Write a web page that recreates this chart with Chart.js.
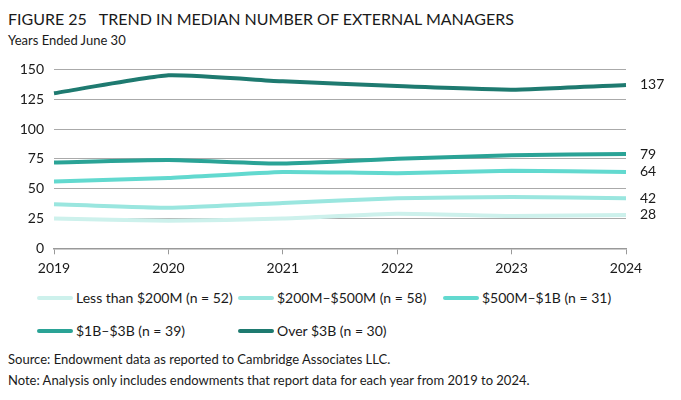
<!DOCTYPE html>
<html>
<head>
<meta charset="utf-8">
<script src="https://cdn.jsdelivr.net/npm/chart.js@4"></script>
<style>
  html, body { margin:0; padding:0; width:681px; height:400px; background:#fff; overflow:hidden; }
  body { position:relative; font-family: Lato, "Open Sans", sans-serif; color:#1a1a1a; }
  .title { position:absolute; left:8px; top:9px; font-size:16px; white-space:pre; letter-spacing:0; }
  .sub { position:absolute; left:8px; top:32px; font-size:13px; }
  #wrap { position:absolute; left:0; top:51px; width:681px; height:234px; }
  #legend { position:absolute; left:0; top:0; width:681px; height:0; }
  .li { position:absolute; font-size:14px; white-space:nowrap; line-height:16px; }
  .sw { position:absolute; width:36px; height:4px; border-radius:2px; }
  .src { position:absolute; left:8px; font-size:13px; white-space:nowrap; }
</style>
</head>
<body>
<div class="title">FIGURE 25   TREND IN MEDIAN NUMBER OF EXTERNAL MANAGERS</div>
<div class="sub">Years Ended June 30</div>
<div id="wrap"><canvas id="c"></canvas></div>
<div id="legend"></div>
<div class="src" style="top:351px">Source: Endowment data as reported to Cambridge Associates LLC.</div>
<div class="src" style="top:372px">Note: Analysis only includes endowments that report data for each year from 2019 to 2024.</div>
<script>
const years = ["2019", "2020", "2021", "2022", "2023", "2024"];
const seriesNames = ["Less than $200M (n = 52)", "$200M\u2013$500M (n = 58)", "$500M\u2013$1B (n = 31)", "$1B\u2013$3B (n = 39)", "Over $3B (n = 30)"];
const lessThan200M = [25, 23, 25, 29, 27, 28];
const from200to500M = [37, 34, 38, 42, 43, 42];
const from500Mto1B = [56, 59, 64, 63, 65, 64];
const from1Bto3B = [72, 74, 71, 75, 78, 79];
const over3B = [130, 145, 140, 136, 133, 137];
const yTicks = [0, 25, 50, 75, 100, 125, 150];
const colors = ["#cdf1ec", "#9ae6df", "#62d9cf", "#2aa396", "#1e7a70"];

const seriesValues = [lessThan200M, from200to500M, from500Mto1B, from1Bto3B, over3B];

const endLabels = {
  id: 'endLabels',
  afterDatasetsDraw(chart) {
    const ctx = chart.ctx;
    const xs = chart.scales.x, ys = chart.scales.y;
    ctx.save();
    ctx.font = '14px Lato, sans-serif';
    ctx.fillStyle = '#1a1a1a';
    ctx.textBaseline = 'middle';
    ctx.textAlign = 'left';
    chart.data.datasets.forEach(ds => {
      const v = ds.data[ds.data.length - 1];
      ctx.fillText(String(v), xs.getPixelForValue(ds.data.length - 1) + 14, ys.getPixelForValue(v));
    });
    ctx.restore();
  }
};

const chart = new Chart(document.getElementById('c'), {
  type: 'line',
  data: {
    labels: years,
    datasets: seriesNames.map((n, i) => ({
      label: n,
      data: seriesValues[i],
      borderColor: colors[i],
      backgroundColor: colors[i],
      borderWidth: 4,
      pointRadius: 0,
      tension: 0.15,
      fill: false
    }))
  },
  options: {
    responsive: true,
    maintainAspectRatio: false,
    animation: false,
    layout: { padding: { left: 0, right: 55, top: 10, bottom: 0 } },
    plugins: { legend: { display: false }, tooltip: { enabled: false } },
    scales: {
      x: {
        grid: { drawOnChartArea: false, drawTicks: true, tickLength: 6, color: '#999' },
        border: { display: true, color: '#999', width: 1.5 },
        ticks: { color: '#1a1a1a', font: { family: 'Lato', size: 14 }, padding: 6, maxRotation: 0 },
        afterFit(s) { s.height = 36.7; }
      },
      y: {
        min: 0, max: 150,
        afterBuildTicks(s) { s.ticks = yTicks.map(v => ({ value: v })); },
        grid: { color: '#aaa', drawTicks: false, lineWidth: 1 },
        border: { display: false },
        ticks: { color: '#1a1a1a', font: { family: 'Lato', size: 14 }, padding: 10 },
        afterFit(s) { s.width = 54; }
      }
    }
  },
  plugins: [endLabels]
});

// HTML legend generated from the datasets
const lg = document.getElementById('legend');
const pos = [[37, 298], [238, 298], [443, 298], [37, 331], [238, 331]];
chart.data.datasets.forEach((ds, i) => {
  const [x, y] = pos[i];
  const sw = document.createElement('div');
  sw.className = 'sw';
  sw.style.left = x + 'px'; sw.style.top = (y - 2) + 'px';
  sw.style.background = ds.borderColor;
  lg.appendChild(sw);
  const t = document.createElement('div');
  t.className = 'li';
  t.style.left = (x + 39) + 'px'; t.style.top = (y - 8) + 'px';
  t.textContent = ds.label;
  lg.appendChild(t);
});
</script>
</body>
</html>
